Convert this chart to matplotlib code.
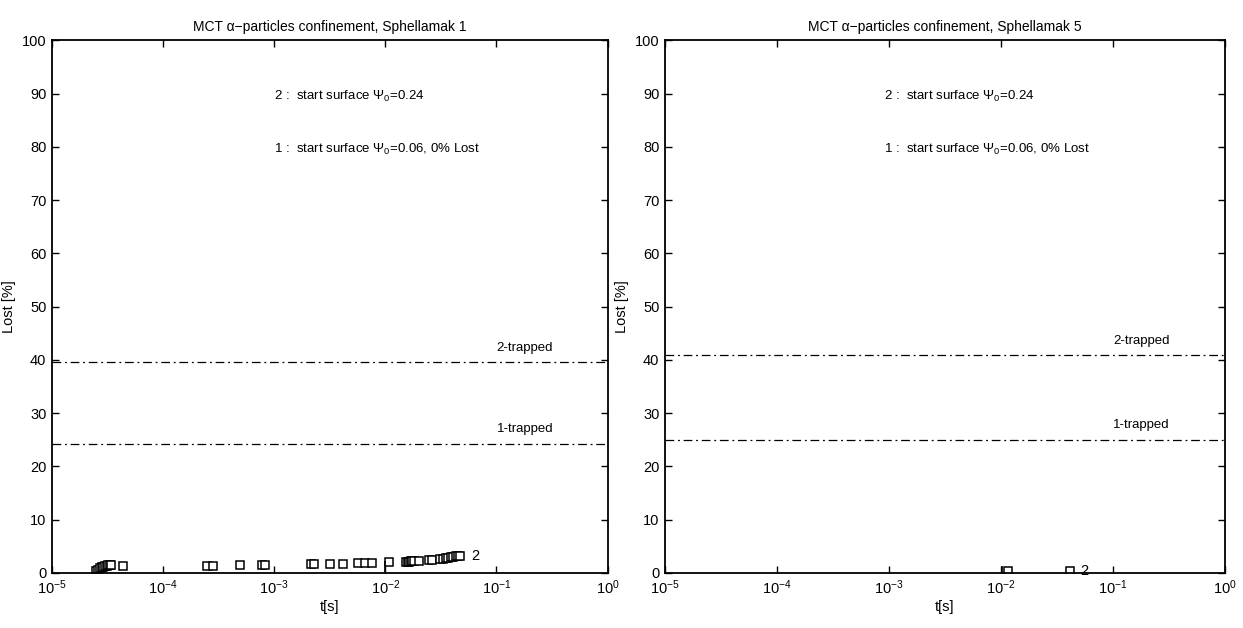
import matplotlib
matplotlib.use('Agg')
import matplotlib.pyplot as plt

plt.rcParams['font.family'] = ['Liberation Sans', 'DejaVu Sans']
plt.rcParams['mathtext.fontset'] = 'custom'
plt.rcParams['mathtext.rm'] = 'Liberation Sans'
plt.rcParams['mathtext.it'] = 'Liberation Sans'
plt.rcParams['mathtext.default'] = 'regular'

# series 2 lost fraction, Sphellamak 1
t1 = [2.5e-5, 2.6e-5, 2.7e-5, 2.8e-5, 2.9e-5, 3.0e-5, 3.1e-5, 3.2e-5, 3.3e-5, 3.4e-5,
      4.4e-5, 2.5e-4, 2.8e-4, 4.9e-4, 7.8e-4, 8.2e-4,
      2.15e-3, 2.3e-3, 3.2e-3, 4.2e-3, 5.7e-3, 6.6e-3, 7.6e-3, 1.07e-2,
      1.55e-2, 1.6e-2, 1.65e-2, 1.7e-2, 1.75e-2, 1.8e-2, 2.0e-2, 2.45e-2, 2.65e-2,
      3.1e-2, 3.3e-2, 3.5e-2, 3.7e-2, 3.9e-2, 4.1e-2, 4.3e-2, 4.5e-2, 4.7e-2]
lost1 = [0.3, 0.6, 0.9, 1.1, 1.2, 1.3, 1.4, 1.5, 1.5, 1.5,
         1.4, 1.4, 1.4, 1.5, 1.5, 1.5,
         1.6, 1.6, 1.7, 1.7, 1.8, 1.9, 1.9, 2.0,
         2.0, 2.1, 2.1, 2.2, 2.2, 2.3, 2.3, 2.4, 2.4,
         2.6, 2.7, 2.8, 2.9, 3.0, 3.0, 3.1, 3.2, 3.2]
trapped1 = [24.3, 39.6]
step1 = [1e-2, 2.2]

# series 2 lost fraction, Sphellamak 5
t5 = [1.15e-2, 4.1e-2]
lost5 = [0.4, 0.4]
trapped5 = [25.0, 40.9]
step5 = [1.02e-2, 1.3]

titles = ['MCT \u03b1\u2212particles confinement, Sphellamak 1',
          'MCT \u03b1\u2212particles confinement, Sphellamak 5']
note2 = '2 :  start surface $\\Psi_0$=0.24'
note1 = '1 :  start surface $\\Psi_0$=0.06, 0% Lost'


def draw(ax, t, lost, trapped, step, title, xtext):
    ax.plot(t, lost, 's', ms=6, mfc='white', mec='black', mew=1.1)
    ax.vlines(step[0], 0, step[1], color='black', lw=1.2)
    ax.text(t[-1] * 1.25, lost[-1], '2', fontsize=10.5, va='center')
    for y, lab in zip(trapped, ['1-trapped', '2-trapped']):
        ax.axhline(y, color='black', lw=0.9, ls=(0, (7, 3, 1.5, 3)))
        ax.text(0.1, y + 2.7, lab, fontsize=9.5, va='center')
    ax.text(xtext, 89.5, note2, fontsize=9.5, va='center')
    ax.text(xtext, 79.5, note1, fontsize=9.5, va='center')
    ax.set_xscale('log')
    ax.set_xlim(1e-5, 1)
    ax.set_ylim(0, 100)
    ax.set_yticks(range(0, 101, 10))
    ax.set_xticks([1e-5, 1e-4, 1e-3, 1e-2, 1e-1, 1])
    ax.minorticks_off()
    ax.tick_params(direction='in', top=True, right=True, length=5, width=1,
                   labelsize=10.5, pad=4)
    for s in ax.spines.values():
        s.set_linewidth(1.3)
    ax.set_xlabel('t[s]', fontsize=10.5, labelpad=2)
    ax.set_ylabel('Lost [%]', fontsize=10.5, labelpad=4)
    ax.set_title(title, fontsize=10, pad=7)


fig = plt.figure(figsize=(12.43, 6.28), dpi=100)
ax1 = fig.add_axes([0.0418, 0.0876, 0.447, 0.848])
ax2 = fig.add_axes([0.535, 0.0876, 0.4505, 0.848])
draw(ax1, t1, lost1, trapped1, step1, titles[0], 1.0e-3)
draw(ax2, t5, lost5, trapped5, step5, titles[1], 9e-4)

fig.savefig('out.png', dpi=100)
